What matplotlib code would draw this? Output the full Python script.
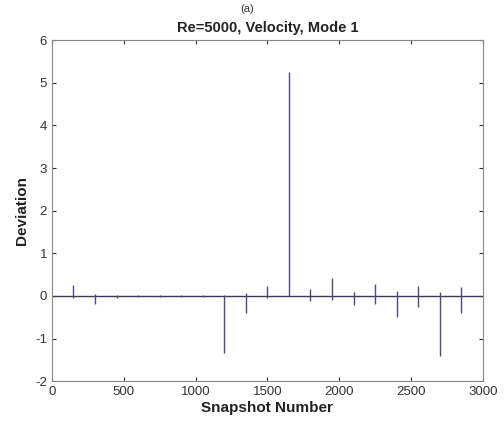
import matplotlib.pyplot as plt
import numpy as np

plt.rcParams['font.family'] = ['Liberation Sans', 'DejaVu Sans']
plt.rcParams['axes.unicode_minus'] = False

# snapshot positions of the spikes and their upper / lower extents
spike_x = [150, 300, 450, 600, 750, 900, 1050, 1200, 1350, 1500,
           1650, 1800, 1950, 2100, 2250, 2400, 2550, 2700, 2850]
spike_hi = [0.25, 0.05, 0.03, 0.02, 0.02, 0.02, 0.03, 0.02, 0.06, 0.23,
            5.25, 0.17, 0.43, 0.08, 0.27, 0.12, 0.23, 0.08, 0.21]
spike_lo = [-0.05, -0.2, -0.05, -0.02, -0.02, -0.02, -0.03, -1.33, -0.4, -0.06,
            0.0, -0.12, -0.1, -0.22, -0.2, -0.49, -0.27, -1.4, -0.41]
base_x = [0, 3000]
base_y = [0, 0]

fig = plt.figure(figsize=(5.04, 4.23), dpi=100)
ax = fig.add_axes([0.103, 0.099, 0.855, 0.806])

ax.plot(base_x, base_y, color='#3a3a5a', lw=1.0)
ax.vlines(spike_x, spike_lo, spike_hi, color='#4a4a8a', lw=1.0)

ax.set_xlim(0, 3000)
ax.set_ylim(-2, 6)
ax.set_xticks(np.arange(0, 3001, 500))
ax.set_yticks(np.arange(-2, 7, 1))
ax.tick_params(direction='in', top=True, right=True, labelsize=9.5,
               colors='#333333', length=3)
for s in ax.spines.values():
    s.set_color('#888888')

ax.set_title('Re=5000, Velocity, Mode 1', fontsize=10.5, fontweight='bold',
             color='#222222', pad=6)
ax.set_xlabel('Snapshot Number', fontsize=11, fontweight='bold',
              color='#222222', labelpad=2)
ax.set_ylabel('Deviation', fontsize=11, fontweight='bold',
              color='#222222', labelpad=4)

fig.text(0.49, 0.99, '(a)', ha='center', va='top', fontsize=8, color='#333333')

fig.savefig('out.png', dpi=100)
